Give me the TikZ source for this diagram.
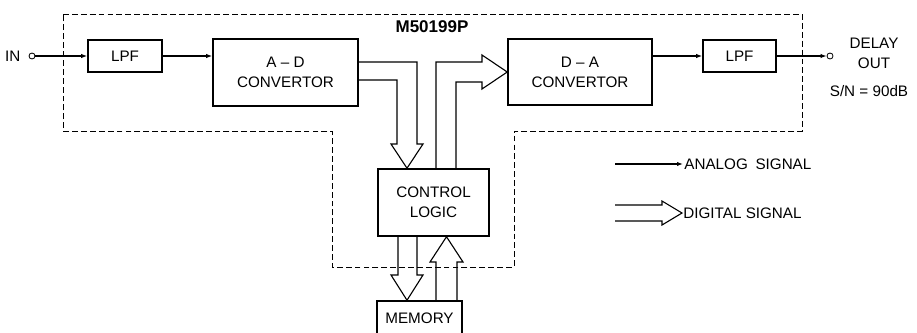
\documentclass[tikz,border=0pt]{standalone}
\usepackage{fontspec}
\setmainfont{Liberation Sans}
\usetikzlibrary{positioning, arrows.meta, calc}

\begin{document}
\begin{tikzpicture}[x=0.03cm, y=-0.03cm, font=\fontsize{13}{17}\selectfont,
  blk/.style={draw, line width=1.3pt, align=center, inner sep=0pt},
  sig/.style={line width=0.9pt, -{Latex[length=1.8mm, width=1.3mm]}},
  bus/.style={line width=0.95pt, line join=miter},
  term/.style={circle, draw, line width=0.7pt, inner sep=0pt, minimum size=0.18cm},
  chip/.style={line width=0.8pt, dash pattern=on 5pt off 2.6pt}]

  \useasboundingbox (0,0) rectangle (917,332);

  % chip boundary
  \draw[chip] (63,14) -- (802,14) -- (802,131) -- (514,131) -- (514,267)
    -- (332,267) -- (332,131) -- (63,131) -- cycle;
  \node[font=\fontsize{14.5}{16}\selectfont\bfseries] (chipname) at (432,27) {M50199P};

  % blocks
  \node[blk, minimum width=2.22cm, minimum height=0.96cm] (lpfa) at (125,56) {LPF};
  \node[blk, minimum width=4.35cm, minimum height=2.01cm] (ad) at (285.5,72.5) {A -- D\\CONVERTOR};
  \node[blk, minimum width=4.32cm, minimum height=1.98cm] (da) at (580,72) {D -- A\\CONVERTOR};
  \node[blk, minimum width=2.19cm, minimum height=0.96cm] (lpfb) at (739.5,56) {LPF};
  \node[blk, minimum width=3.33cm, minimum height=2.01cm] (ctrl) at (433.5,202.5) {CONTROL\\LOGIC};
  \node[blk, minimum width=2.55cm, minimum height=1.02cm] (mem) at (419.5,318) {MEMORY};

  % terminals
  \node[term] (inpin) at (32,56) {};
  \node[left=0.12cm of inpin] (inlbl) {IN};
  \node[term] (outpin) at (830,56) {};
  \node[align=center] (outlbl) at (874,53) {DELAY\\OUT};
  \node (snr) at (869,91) {S/N = 90dB};

  % analog path
  \draw[sig] (inpin) -- (lpfa);
  \draw[sig] (lpfa) -- (ad.west |- lpfa.east);
  \draw[sig] (da.east |- lpfb.west) -- (lpfb.west);
  \draw[sig] (lpfb) -- (outpin);

  % digital buses
  \draw[bus] (ad.east |- 0,62) -| (417,144) -- (423,144) -- (ctrl.north -| 407,0)
    -- (391,144) -- (397,144) |- (ad.east |- 0,80);
  \draw[bus] (ctrl.north -| 436,0) |- (482,62) -- (482,55) -- (da.west |- 0,72)
    -- (482,89) -- (482,82) -| (ctrl.north -| 456,0);
  \draw[bus] (ctrl.south -| 398,0) -- (398,275) -- (391,275) -- (mem.north -| 407,0)
    -- (423,275) -- (417,275) -- (ctrl.south -| 417,0);
  \draw[bus] (mem.north -| 436,0) -- (436,262) -- (430,262) -- (ctrl.south -| 446.5,0)
    -- (463,262) -- (457,262) -- (mem.north -| 457,0);

  % legend
  \coordinate (anastart) at (615,164);
  \node[anchor=west, inner sep=1pt] (analog) at (683,164) {ANALOG\hspace{0.5em}SIGNAL};
  \draw[sig] (anastart) -- (analog);
  \node[anchor=west, inner sep=1pt] (digital) at (682,213) {DIGITAL SIGNAL};
  \draw[bus] (615,205) -- (662,205) -- (662,201) -- (digital.west)
    -- (662,225) -- (662,221) -- (615,221);
\end{tikzpicture}
\end{document}
